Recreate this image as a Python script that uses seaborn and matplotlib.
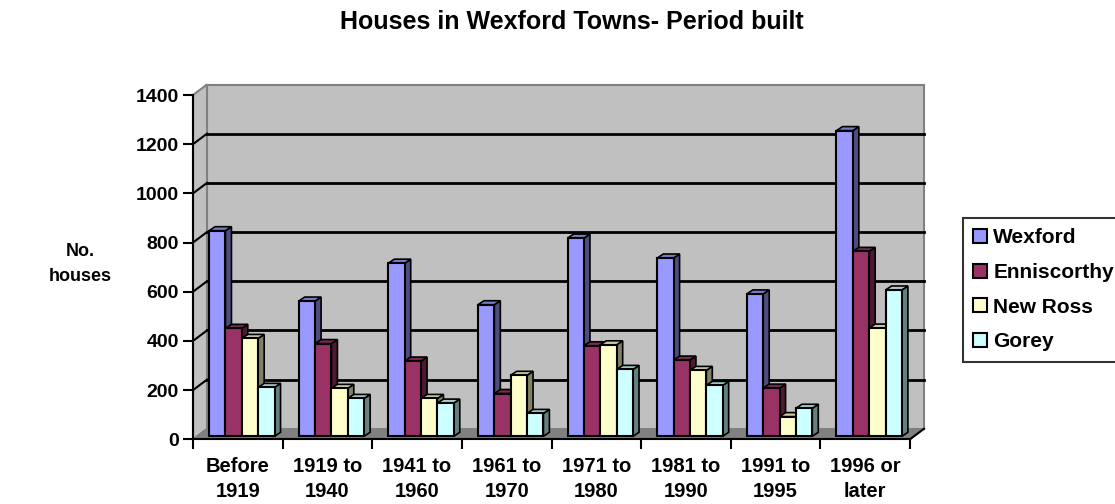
import numpy as np
import pandas as pd
import seaborn as sns
import matplotlib.pyplot as plt
from matplotlib.patches import Rectangle, Polygon, Patch
from matplotlib.transforms import ScaledTranslation

plt.rcParams["font.family"] = ["Liberation Sans", "DejaVu Sans"]
plt.rcParams["font.weight"] = "bold"

# Data
periods = ["Before\n1919", "1919 to\n1940", "1941 to\n1960", "1961 to\n1970",
           "1971 to\n1980", "1981 to\n1990", "1991 to\n1995", "1996 or\nlater"]
towns = ["Wexford", "Enniscorthy", "New Ross", "Gorey"]
wexford = [836, 550, 704, 535, 806, 725, 579, 1243]
enniscorthy = [439, 377, 306, 174, 368, 310, 196, 752]
new_ross = [398, 195, 154, 248, 372, 268, 80, 440]
gorey = [199, 154, 135, 93, 272, 207, 114, 595]
colours = ["#9999ff", "#993366", "#ffffcc", "#ccffff"]

df = pd.DataFrame({"period": periods * 4,
                   "town": np.repeat(towns, len(periods)),
                   "houses": wexford + enniscorthy + new_ross + gorey})

fig = plt.figure(figsize=(11.15, 5.04), dpi=100)
ax = fig.add_axes([193 / 1115, 64.7 / 504, 717 / 1115, 344.3 / 504])
ax.patch.set_visible(False)

sns.barplot(data=df, x="period", y="houses", hue="town", palette=colours,
            width=0.73, saturation=1, errorbar=None, edgecolor="black",
            linewidth=1.5, legend=False, ax=ax)
bars = list(ax.patches)

xmin, xmax, ymax = -0.5, 7.5, 1400
ax.set_xlim(xmin, xmax)
ax.set_ylim(0, ymax)
ax.set_yticks(range(0, 1401, 200))
ax.set_xlabel(None)
ax.set_ylabel(None)

# pixel -> data helpers for the fake 3D depth
sx = (xmax - xmin) / 717
sy = ymax / 344.3
wdx, wdy = 14 * sx, 10.5 * sy      # back wall depth
bdx, bdy = 6 * sx, 4 * sy          # bar depth
off = ScaledTranslation(4 / 100, 3 / 100, fig.dpi_scale_trans)

# Back wall, side wall and floor
wall_off = ScaledTranslation(14 / 100, 10.5 / 100, fig.dpi_scale_trans)
ax.add_patch(Rectangle((0, 0), 1, 1, transform=ax.transAxes + wall_off,
                       fc="#c0c0c0", ec="#808080", lw=1.5, zorder=0.5, clip_on=False))
ax.add_patch(Polygon([(xmin, 0), (xmin, ymax), (xmin + wdx, ymax + wdy), (xmin + wdx, wdy)],
                     fc="#c0c0c0", ec="#808080", lw=1.5, zorder=0.55, clip_on=False))
ax.add_patch(Polygon([(xmin, 0), (xmax, 0), (xmax + wdx, wdy), (xmin + wdx, wdy)],
                     fc="#808080", ec="none", zorder=0.7, clip_on=False))
ax.plot([xmax, xmax + wdx], [0, wdy], color="black", lw=1.5, zorder=0.75, clip_on=False)
for v in range(200, 1400, 200):
    ax.plot([xmin + wdx, xmax + wdx], [v + wdy, v + wdy], color="black", lw=2,
            zorder=0.6, clip_on=False)
    ax.plot([xmin, xmin + wdx], [v, v + wdy], color="black", lw=1.5,
            zorder=0.6, clip_on=False)

# Give each bar a side and a top face
for p in bars:
    x, w, h = p.get_x(), p.get_width(), p.get_height()
    fc = np.array(p.get_facecolor()[:3])
    z = 2 + x
    p.set_transform(ax.transData + off)
    p.set_zorder(z)
    side = Polygon([(x + w, 0), (x + w, h), (x + w + bdx, h + bdy), (x + w + bdx, bdy)],
                   fc=fc * 0.5, ec="black", lw=1.2, zorder=z - 0.01,
                   transform=ax.transData + off, clip_on=False)
    top = Polygon([(x, h), (x + w, h), (x + w + bdx, h + bdy), (x + bdx, h + bdy)],
                  fc=fc * 0.8, ec="black", lw=1.2, zorder=z - 0.01,
                  transform=ax.transData + off, clip_on=False)
    ax.add_patch(side)
    ax.add_patch(top)

for s in ["top", "right"]:
    ax.spines[s].set_visible(False)
for s in ["left", "bottom"]:
    ax.spines[s].set_linewidth(1.5)
    ax.spines[s].set_zorder(20)

ax.set_xticks(np.arange(xmin, xmax + 1, 1), minor=True)
ax.tick_params(axis="x", which="major", length=0, pad=13, labelsize=14.5)
ax.tick_params(axis="x", which="minor", length=7, width=1.5)
ax.tick_params(axis="y", length=7, width=1.5, pad=3, labelsize=14)
for lab in ax.get_xticklabels():
    lab.set_linespacing(1.35)
    lab.set_fontweight("bold")
for lab in ax.get_yticklabels():
    lab.set_fontweight("bold")

fig.text(572 / 1115, 1 - 22 / 504, "Houses in Wexford Towns- Period built",
         ha="center", va="center", fontsize=18, fontweight="bold")
fig.text(80 / 1115, 1 - 264 / 504, "No.\nhouses", ha="center", va="center",
         fontsize=13, fontweight="bold", linespacing=1.65)

handles = [Patch(facecolor=c, edgecolor="black", lw=1.5) for c in colours]
leg = fig.legend(handles, towns, loc="upper left",
                 bbox_to_anchor=(963 / 1115, 1 - 218 / 504), fontsize=15,
                 frameon=True, fancybox=False, edgecolor="black",
                 handlelength=0.65, handleheight=0.65, handletextpad=0.3,
                 labelspacing=0.75, borderaxespad=0, borderpad=0.5)
leg.get_frame().set_linewidth(1.5)
for t in leg.get_texts():
    t.set_fontweight("bold")

fig.savefig("out.png", dpi=100)
